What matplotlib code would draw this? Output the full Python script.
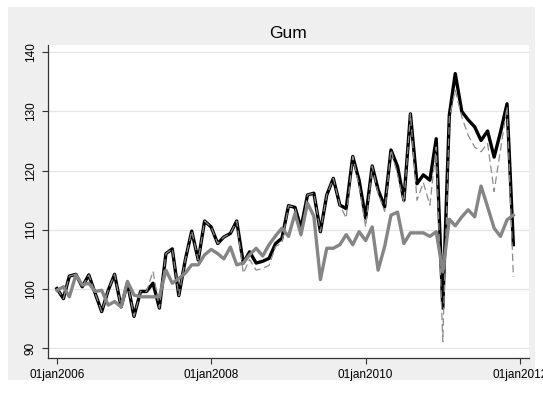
import numpy as np
import pandas as pd
import matplotlib.pyplot as plt
from matplotlib.patches import Rectangle

plt.rcParams['font.family'] = ['Liberation Sans', 'DejaVu Sans']

# monthly series, Jan 2006 - Dec 2011
dates = pd.date_range('2006-01-01', periods=72, freq='MS')

black = [100.1, 98.4, 102.2, 102.5, 100.4, 102.4, 99.3, 96.2, 99.8, 102.5, 97.0, 101.0,
         95.4, 99.6, 99.6, 101.0, 96.8, 106.0, 106.8, 98.9, 105.0, 109.8, 104.9, 111.5,
         110.5, 107.7, 108.8, 109.4, 111.5, 104.4, 106.3, 104.4, 104.7, 105.2, 107.7, 108.6,
         114.1, 113.8, 110.3, 115.9, 116.2, 109.7, 115.9, 118.7, 114.2, 113.6, 122.4, 118.4,
         112.0, 120.8, 116.8, 113.9, 123.5, 120.7, 115.0, 129.6, 117.8, 119.3, 118.4, 125.4,
         96.8, 129.4, 136.4, 130.0, 128.6, 127.4, 125.1, 126.7, 122.3, 126.5, 131.3, 107.5]

dashed = [100.1, 98.4, 102.2, 102.5, 100.4, 102.4, 99.3, 96.2, 99.8, 102.5, 97.0, 101.0,
          95.4, 99.6, 99.6, 103.0, 96.8, 106.0, 106.8, 98.9, 105.0, 109.8, 104.9, 111.5,
          110.5, 107.7, 108.8, 109.4, 111.5, 102.7, 105.0, 103.2, 103.5, 104.0, 107.2, 107.8,
          114.1, 113.8, 109.0, 115.9, 116.2, 109.7, 115.9, 118.7, 114.2, 112.0, 122.4, 117.5,
          110.5, 120.8, 116.2, 113.1, 123.5, 119.3, 114.6, 129.6, 115.0, 118.0, 114.2, 124.0,
          91.1, 129.0, 133.6, 129.1, 126.0, 124.0, 123.2, 124.6, 116.5, 123.5, 130.8, 102.1]

grey = [99.8, 100.4, 98.7, 102.4, 100.7, 101.0, 99.6, 99.8, 97.3, 97.9, 97.0, 101.3,
        99.0, 98.7, 98.7, 98.7, 98.7, 103.2, 101.0, 101.8, 102.7, 104.1, 104.1, 105.8,
        106.7, 106.0, 105.1, 107.1, 104.1, 104.4, 105.8, 106.9, 105.6, 107.5, 109.0, 110.3,
        108.9, 112.8, 109.2, 114.5, 112.3, 101.6, 106.9, 106.9, 107.5, 109.2, 107.5, 109.7,
        108.2, 110.5, 103.2, 107.2, 112.5, 113.0, 107.7, 109.5, 109.5, 109.5, 108.9, 109.7,
        102.9, 111.8, 110.7, 112.2, 113.4, 112.2, 117.4, 113.9, 110.3, 108.9, 111.7, 112.5]

xticks = pd.to_datetime(['2006-01-01', '2008-01-01', '2010-01-01', '2012-01-01'])
xticklabels = ['01jan2006', '01jan2008', '01jan2010', '01jan2012']
yticks = [90, 100, 110, 120, 130, 140]

fig = plt.figure(figsize=(5.43, 3.95), dpi=100, facecolor='white')
fig.patches.append(Rectangle((8 / 543, 15 / 395), 527 / 543, 373 / 395,
                             transform=fig.transFigure, facecolor='#efefef',
                             edgecolor='none', zorder=-10))

ax = fig.add_axes([48 / 543, 37.5 / 395, 481 / 543, 312.5 / 395])
ax.set_zorder(1)
ax.set_facecolor('white')

ax.plot(dates, black, color='black', lw=2.4, zorder=3)
ax.plot(dates, dashed, color='#8c8c8c', lw=0.9, ls=(0, (6, 3)), zorder=4)
ax.plot(dates, grey, color='#858585', lw=2.4, zorder=5)

ax.set_ylim(88.45, 141.23)
ax.set_xlim(pd.Timestamp('2005-11-20'), pd.Timestamp('2012-02-13'))

ax.set_yticks(yticks)
ax.set_yticklabels([str(v) for v in yticks], rotation=90, va='center', fontsize=8.5)
ax.set_xticks(xticks)
ax.set_xticklabels(xticklabels, fontsize=8.5)
ax.tick_params(axis='both', direction='out', length=4, width=0.8, color='#333333', pad=4)

ax.grid(axis='y', color='#e6e6e6', lw=0.9)
ax.set_axisbelow(True)
for s in ['top', 'right']:
    ax.spines[s].set_visible(False)
for s in ['left', 'bottom']:
    ax.spines[s].set_color('#333333')
    ax.spines[s].set_linewidth(0.9)

ax.set_title('Gum', fontsize=12.5, pad=5)

fig.savefig('out.png', dpi=100, facecolor=fig.get_facecolor())
